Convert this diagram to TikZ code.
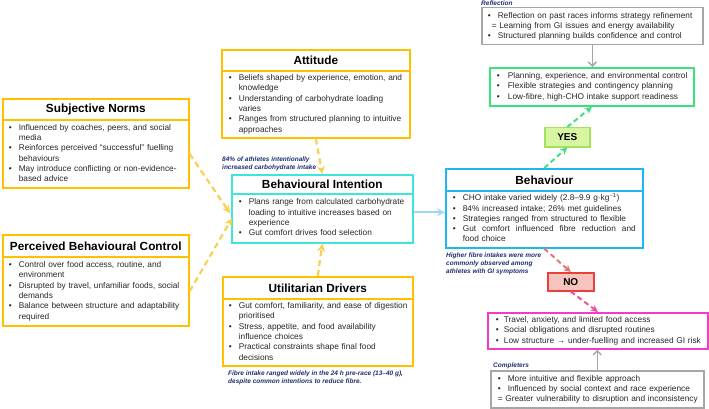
\documentclass[tikz,border=0pt]{standalone}
\usepackage{fontspec}
\setmainfont{Liberation Sans}
\usetikzlibrary{arrows.meta,calc}
\definecolor{gold}{HTML}{FFC000}
\definecolor{ydash}{HTML}{F9D152}
\definecolor{cyanb}{HTML}{3CE6DC}
\definecolor{blueb}{HTML}{1DB8F0}
\definecolor{lblue}{HTML}{9DD9F3}
\definecolor{greenb}{HTML}{3CE07C}
\definecolor{yesfill}{HTML}{D8F5A2}
\definecolor{yesdraw}{HTML}{A5E25C}
\definecolor{nofill}{HTML}{F6C3BE}
\definecolor{nodraw}{HTML}{E8413B}
\definecolor{reddash}{HTML}{E87373}
\definecolor{pinkb}{HTML}{F03CC8}
\definecolor{pinkdash}{HTML}{F04BA0}
\definecolor{grayb}{HTML}{A6A6A6}
\definecolor{navy}{HTML}{1F2D6E}
\definecolor{txt}{HTML}{262626}
\newenvironment{blist}[1][10pt]{\noindent\begin{tabular}{@{}p{#1}@{}l@{}}}{\end{tabular}}
\newcommand\bu{\textbullet}
\newcommand\eqline[1]{\multicolumn{2}{@{}l@{}}{#1}}
\newcommand\bodyfont{\fontsize{8.3}{10.3}\selectfont}
\newcommand\titlefont{\fontsize{11.8}{14}\selectfont\bfseries}
\newcommand\labfont{\fontsize{6.5}{8.2}\selectfont\bfseries\itshape}
\tikzset{
  x=1pt, y=-1pt,
  ttl/.style={draw=gold, line width=1.6pt, anchor=north west, inner sep=0pt, font=\titlefont, text=black},
  bdy/.style={draw=gold, line width=1.6pt, anchor=north west, inner ysep=0pt, align=left, font=\bodyfont, text=txt},
  simplebox/.style={line width=1.5pt, anchor=north west, inner ysep=0pt, align=left, font=\bodyfont, text=txt},
  lab/.style={anchor=west, inner sep=0pt, align=left, font=\labfont, text=navy},
  yarrow/.style={draw=ydash, line width=2.2pt, dash pattern=on 6pt off 4pt, -{Stealth[length=8pt,width=8pt]}},
  garrow/.style={draw=greenb, line width=2pt, dash pattern=on 5pt off 3.5pt, -{Stealth[length=7pt,width=7pt]}},
  rarrow/.style={draw=reddash, line width=2pt, dash pattern=on 5pt off 3.5pt, -{Stealth[length=7pt,width=7pt]}},
  parrow/.style={draw=pinkdash, line width=2pt, dash pattern=on 5pt off 3.5pt, -{Stealth[length=7pt,width=7pt]}},
  grarrow/.style={draw=grayb, line width=1.5pt, -{Straight Barb[length=4pt,width=8pt]}},
  barrow/.style={draw=lblue, line width=1.8pt, -{Stealth[length=8pt,width=8pt]}},
}
\begin{document}
\begin{tikzpicture}
\useasboundingbox (0,0) rectangle (709,409);
% Subjective Norms
\node[ttl, minimum width=186pt, minimum height=21pt] (snt) at (2,98) {Subjective Norms};
\node[bdy, minimum width=186pt, minimum height=68pt, inner xsep=6pt, text width=174pt] (snb) at (2,119) {%
\begin{blist}
\bu & Influenced by coaches, peers, and social\\
    & media\\
\bu & Reinforces perceived “successful” fuelling\\
    & behaviours\\
\bu & May introduce conflicting or non-evidence-\\
    & based advice
\end{blist}};
% Perceived Behavioural Control
\node[ttl, minimum width=186pt, minimum height=22pt] (pbct) at (2,234) {Perceived Behavioural Control};
\node[bdy, minimum width=186pt, minimum height=69pt, inner xsep=6pt, text width=174pt] (pbcb) at (2,256) {%
\begin{blist}
\bu & Control over food access, routine, and\\
    & environment\\
\bu & Disrupted by travel, unfamiliar foods, social\\
    & demands\\
\bu & Balance between structure and adaptability\\
    & required
\end{blist}};
% Attitude
\node[ttl, minimum width=188pt, minimum height=21pt] (attt) at (221,49) {Attitude};
\node[bdy, minimum width=188pt, minimum height=67pt, inner xsep=7pt, text width=174pt] (attb) at (221,70) {%
\begin{blist}
\bu & Beliefs shaped by experience, emotion, and\\
    & knowledge\\
\bu & Understanding of carbohydrate loading\\
    & varies\\
\bu & Ranges from structured planning to intuitive\\
    & approaches
\end{blist}};
% Behavioural Intention
\node[ttl, draw=cyanb, minimum width=181pt, minimum height=19pt] (bit) at (231,174) {Behavioural Intention};
\node[bdy, draw=cyanb, minimum width=181pt, minimum height=49pt, inner xsep=7pt, text width=167pt] (bib) at (231,193) {%
\begin{blist}
\bu & Plans range from calculated carbohydrate\\
    & loading to intuitive increases based on\\
    & experience\\
\bu & Gut comfort drives food selection
\end{blist}};
% Utilitarian Drivers
\node[ttl, minimum width=190pt, minimum height=22pt] (udt) at (222,276) {Utilitarian Drivers};
\node[bdy, minimum width=190pt, minimum height=67pt, inner xsep=6pt, text width=178pt] (udb) at (222,298) {%
\begin{blist}
\bu & Gut comfort, familiarity, and ease of digestion\\
    & prioritised\\
\bu & Stress, appetite, and food availability\\
    & influence choices\\
\bu & Practical constraints shape final food\\
    & decisions
\end{blist}};
% Behaviour
\node[ttl, draw=blueb, minimum width=197pt, minimum height=22pt] (beht) at (445,168) {Behaviour};
\node[bdy, draw=blueb, minimum width=197pt, minimum height=57pt, inner xsep=7pt, text width=183pt] (behb) at (445,190) {%
\begin{blist}
\bu & CHO intake varied widely (2.8–9.9 g·kg\textsuperscript{−1})\\
\bu & 84\% increased intake; 26\% met guidelines\\
\bu & Strategies ranged from structured to flexible\\
\bu & \hbox to 173pt{Gut\hfil comfort\hfil influenced\hfil fibre\hfil reduction\hfil and}\\
    & food choice
\end{blist}};
% Reflection
\node[simplebox, draw=grayb, minimum width=221pt, minimum height=37pt, inner xsep=6pt, text width=209pt] (refl) at (481,7) {%
\begin{blist}
\bu & Reflection on past races informs strategy refinement\\
\eqline{\hspace{4pt}= Learning from GI issues and energy availability}\\
\bu & Structured planning builds confidence and control
\end{blist}};
% Green
\node[simplebox, draw=greenb, line width=1.8pt, minimum width=204pt, minimum height=38pt, inner xsep=7pt, text width=190pt] (grn) at (489,67) {%
\begin{blist}[11pt]
\bu & Planning, experience, and environmental control\\
\bu & Flexible strategies and contingency planning\\
\bu & Low-fibre, high-CHO intake support readiness
\end{blist}};
% YES / NO
\node[draw=yesdraw, fill=yesfill, line width=1.5pt, anchor=north west, minimum width=45pt, minimum height=19pt, inner sep=0pt, font=\fontsize{10}{12}\selectfont\bfseries] (yes) at (544,127) {YES};
\node[draw=nodraw, fill=nofill, line width=1.5pt, anchor=north west, minimum width=46pt, minimum height=18pt, inner sep=0pt, font=\fontsize{10}{12}\selectfont\bfseries] (no) at (547,272) {NO};
% Pink
\node[simplebox, draw=pinkb, line width=1.8pt, minimum width=220pt, minimum height=36pt, inner xsep=8pt, text width=204pt] (pnk) at (487,312) {%
\begin{blist}[8pt]
\bu & Travel, anxiety, and limited food access\\
\bu & Social obligations and disrupted routines\\
\bu & Low structure → under-fuelling and increased GI risk
\end{blist}};
% Completers
\node[simplebox, draw=grayb, minimum width=213pt, minimum height=37pt, inner xsep=7pt, text width=199pt] (cmp) at (490,370) {%
\begin{blist}
\bu & More intuitive and flexible approach\\
\bu & Influenced by social context and race experience\\
\eqline{= Greater vulnerability to disruption and inconsistency}
\end{blist}};
% Labels
\node[lab] (lrefl) at (481,3.5) {Reflection};
\node[lab] (lbi) at (222,164) {84\% of athletes intentionally\\increased carbohydrate intake};
\node[lab] (lud) at (228,378) {Fibre intake ranged widely in the 24 h pre-race (13–40 g),\\despite common intentions to reduce fibre.};
\node[lab] (lbeh) at (446,264) {Higher fibre intakes were more\\commonly observed among\\athletes with GI symptoms};
\node[lab] (lcmp) at (493,366) {Completers};
% Connectors
\draw[yarrow] (snb.east) -- ($(bib.west)+(-1,-5)$);
\draw[yarrow] (pbcb.east) -- ($(bib.west)+(1,0)$);
\draw[yarrow] (attb.south) -- (bit.north);
\draw[yarrow] (udt.north) -- (bib.south);
\coordinate (bistart) at ($(bib.east)+(0,-6)$);
\draw[barrow] (bistart) -- (bistart -| behb.west);
\draw[garrow] (beht.north) -- (yes.south);
\draw[garrow] (yes.north) -- (grn.south);
\draw[grarrow] (refl.south) -- (refl.south |- grn.north);
\draw[rarrow] (behb.south) -- (no.north);
\draw[parrow] (no.south) -- (pnk.north);
\draw[grarrow] (cmp.north) -- (cmp.north |- pnk.south);
\end{tikzpicture}
\end{document}
